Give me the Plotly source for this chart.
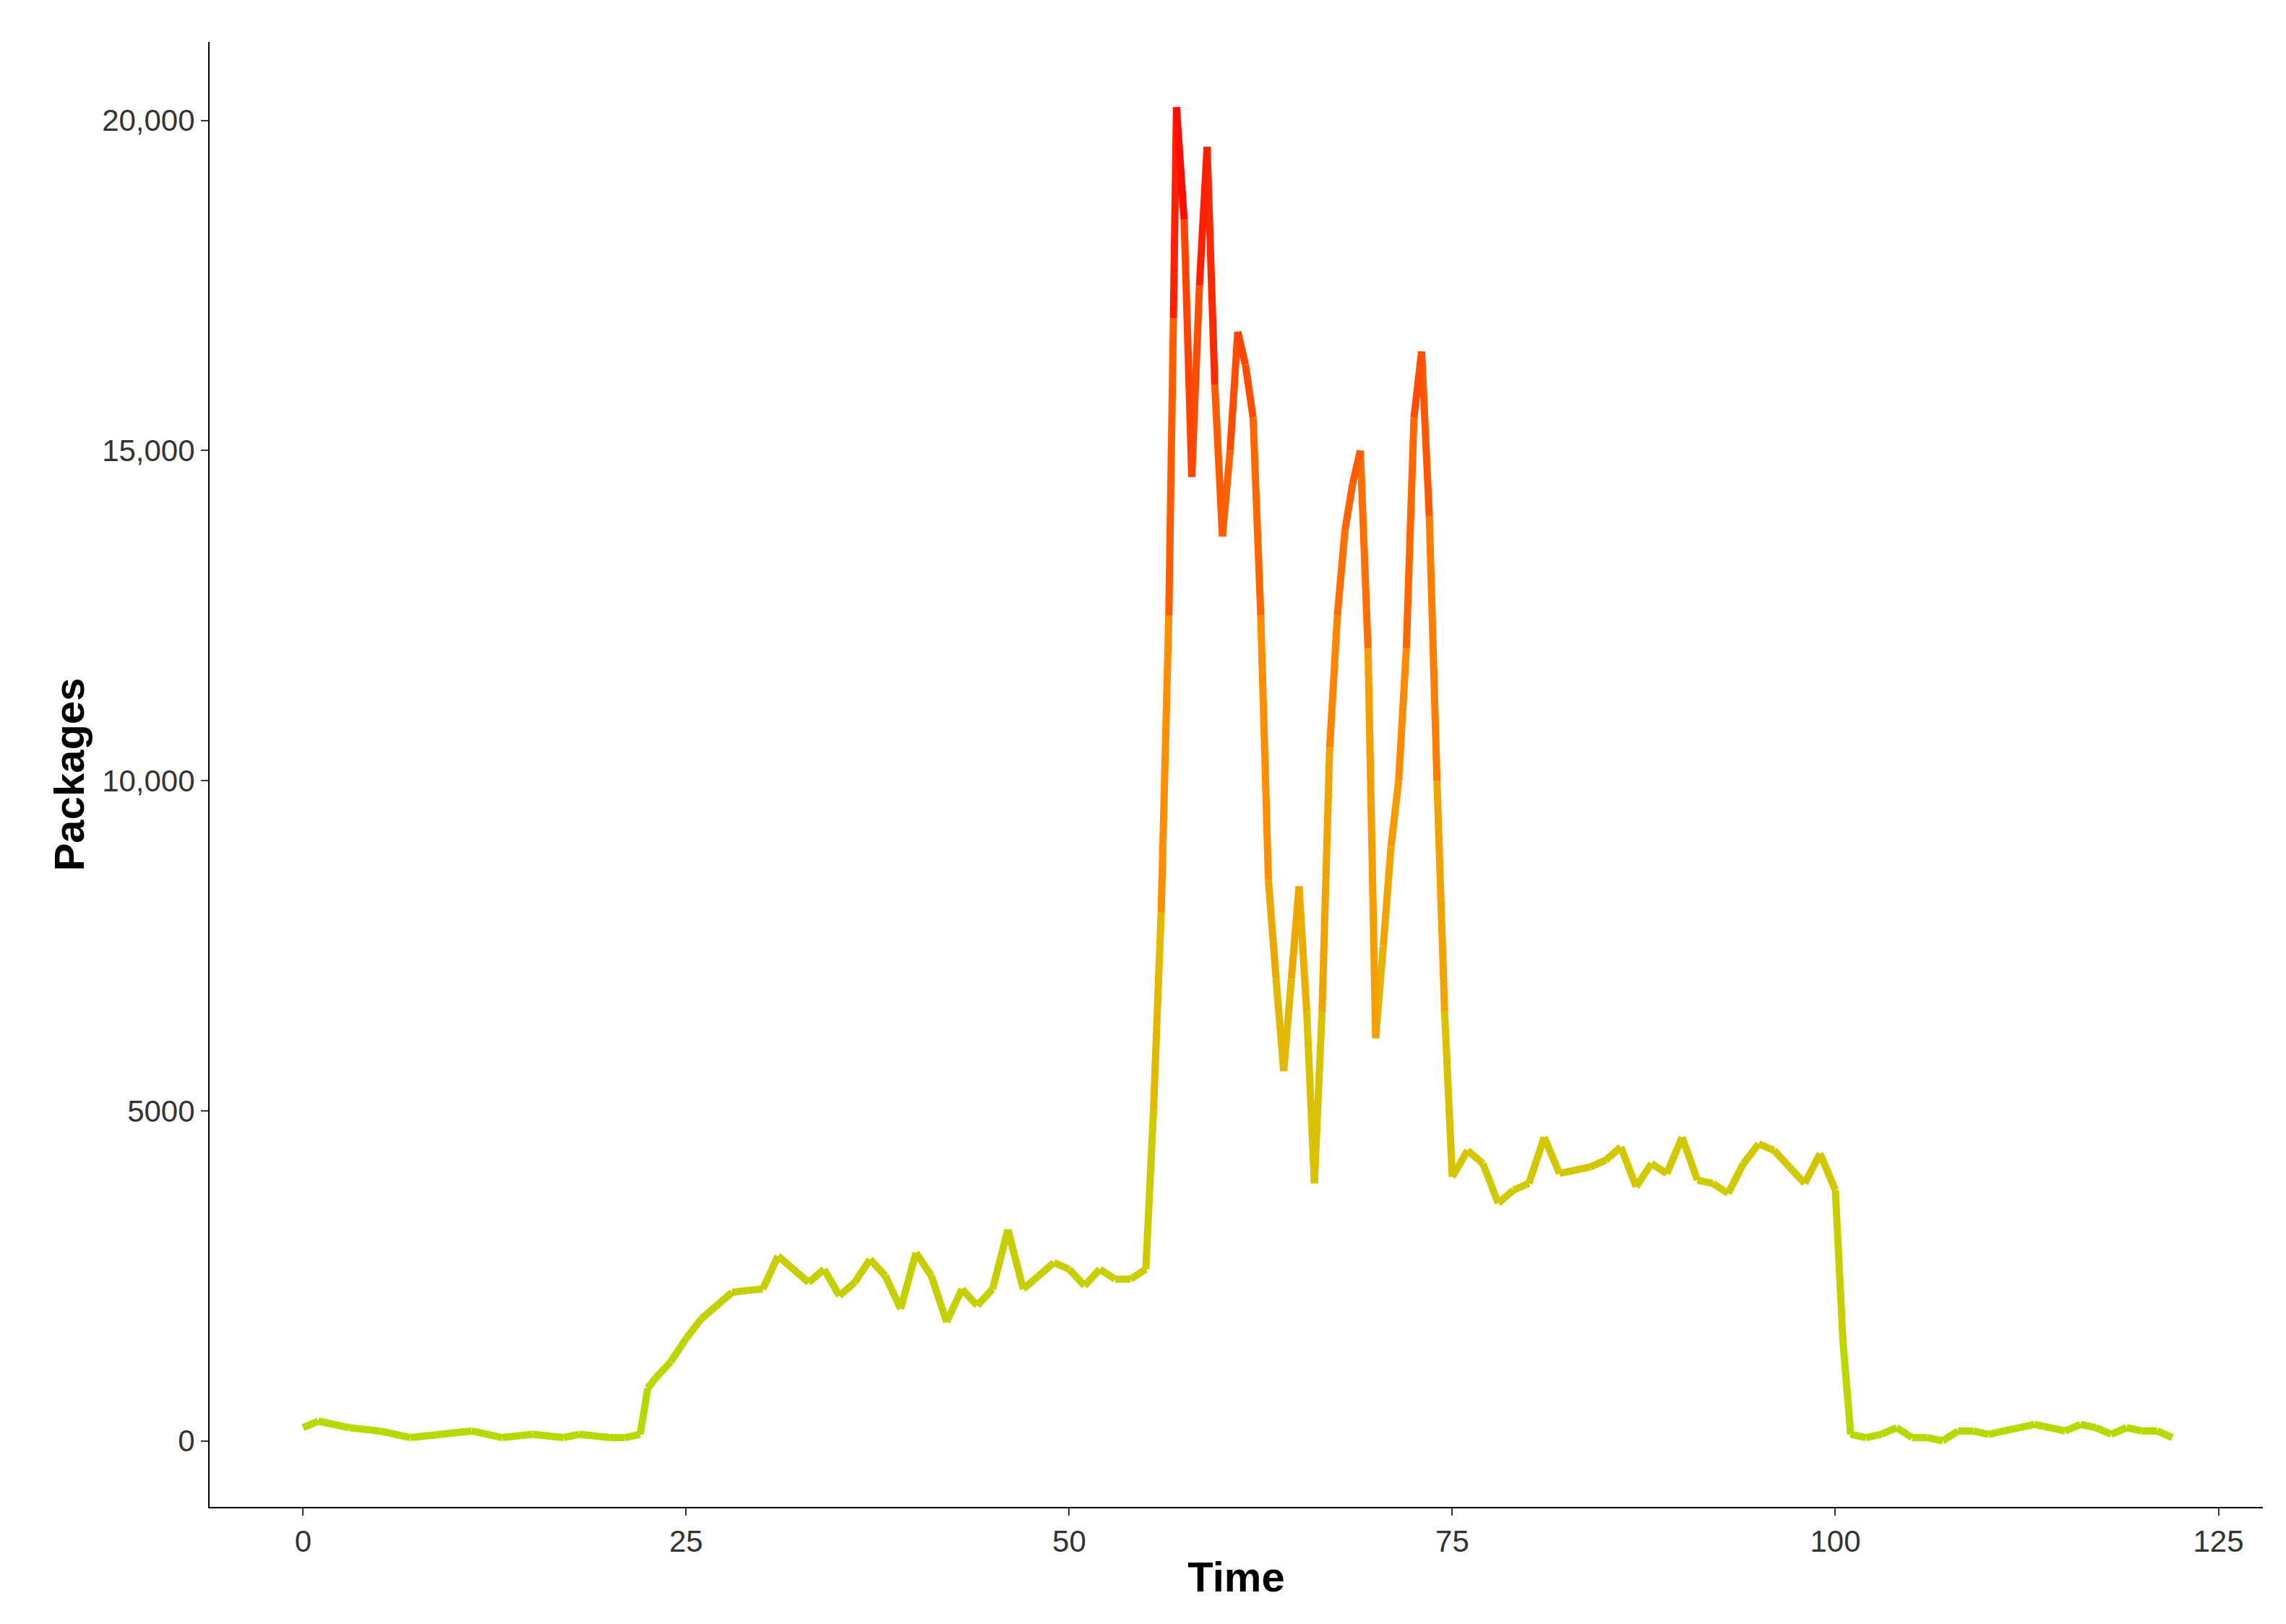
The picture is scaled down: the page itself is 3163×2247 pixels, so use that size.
import plotly.graph_objects as go
from plotly.colors import sample_colorscale

time = [0, 1, 3, 5, 7, 9, 11, 13, 15, 17, 18, 20, 21, 22,
        22.5, 23, 24, 25, 26, 27, 28, 29, 30, 31, 32, 33, 34, 35, 36, 37, 38, 39,
        40, 41, 42, 43, 44, 45, 46, 47, 48, 49, 50, 51, 52, 53, 54, 55,
        55.5, 56, 56.5, 56.8, 57, 57.5, 58, 58.5, 59, 59.5, 60, 60.5, 61, 61.5,
        62, 62.5, 63, 63.5, 64, 64.5, 65, 65.5, 66, 66.5, 67, 67.5, 68, 68.5,
        69, 69.5, 70, 70.5, 71, 71.5, 72, 72.5, 73, 73.5, 74, 74.5, 75,
        76, 77, 78, 79, 80, 81, 82, 83, 84, 85, 86, 87, 88, 89, 90, 91, 92, 93,
        94, 95, 96, 97, 98, 99, 100, 100.5, 101, 102, 103, 104, 105, 106, 107,
        108, 109, 110, 111, 112, 113, 114, 115, 116, 117, 118, 119, 120, 121, 122]
packages = [200, 300, 200, 150, 50, 100, 150, 50, 100, 50, 100, 50, 50, 100,
            800, 950, 1200, 1550, 1850, 2050, 2250, 2280, 2300, 2800, 2600, 2400, 2600, 2200, 2400, 2750, 2500, 2000,
            2850, 2500, 1800, 2300, 2050, 2300, 3200, 2300, 2500, 2700, 2600, 2350, 2600, 2450, 2450, 2600,
            5000, 8000, 12500, 17000, 20200, 18500, 14600, 17500, 19600, 16000, 13700, 15000, 16800, 16300,
            15500, 12500, 8500, 7000, 5600, 7000, 8400, 6500, 3900, 6500, 10500, 12500, 13800, 14500,
            15000, 12000, 6100, 7500, 9000, 10000, 12000, 15500, 16500, 14000, 10000, 6500, 4000,
            4400, 4200, 3600, 3800, 3900, 4600, 4050, 4100, 4150, 4250, 4450, 3850, 4200, 4050, 4600, 3950, 3900, 3750,
            4200, 4500, 4400, 4150, 3900, 4350, 3800, 1500, 100, 50, 100, 200, 50, 50, 0,
            150, 150, 100, 150, 200, 250, 200, 150, 250, 200, 100, 200, 150, 150, 50]

y_ticks = [0, 5000, 10000, 15000, 20000]
y_ticktext = ['0', '5000', '10,000', '15,000', '20,000']
x_ticks = [0, 25, 50, 75, 100, 125]

scale = [[0, '#b6da00'], [0.25, '#d8c400'], [0.5, '#ff9200'], [0.75, '#ff5a00'], [1, '#ff0000']]
vmax = max(packages)

# segmente nach farbe gruppieren (ein trace pro farbstufe)
NB = 40
bins = {}
for i in range(len(time) - 1):
    v = (packages[i] + packages[i + 1]) / 2
    b = min(NB - 1, int(v / vmax * NB))
    xs, ys = bins.setdefault(b, ([], []))
    xs += [time[i], time[i + 1], None]
    ys += [packages[i], packages[i + 1], None]

fig = go.Figure()
for b in sorted(bins):
    col = sample_colorscale(scale, (b + 0.5) / NB)[0]
    xs, ys = bins[b]
    fig.add_trace(go.Scatter(x=xs, y=ys, mode='lines', showlegend=False,
                             line=dict(color=col, width=10)))

ax = dict(showgrid=False, zeroline=False, showline=True, linecolor='black', linewidth=2,
          ticks='outside', ticklen=10, tickwidth=2, tickcolor='#333',
          tickfont=dict(family='Liberation Sans, Arial', size=42, color='#333333'))
fig.update_layout(
    width=3163, height=2247, plot_bgcolor='white', paper_bgcolor='white',
    margin=dict(l=282, r=40, t=50, b=170),
    xaxis=dict(ax, range=[-6.1, 127.9], tickvals=x_ticks,
               title=dict(text='<b>Time</b>', standoff=6,
                          font=dict(family='Liberation Sans, Arial', size=58, color='black'))),
    yaxis=dict(ax, range=[-1000, 21190], tickvals=y_ticks, ticktext=y_ticktext,
               title=dict(text='<b>Packages</b>', standoff=6,
                          font=dict(family='Liberation Sans, Arial', size=58, color='black'))),
)
fig.write_html("out.html")
